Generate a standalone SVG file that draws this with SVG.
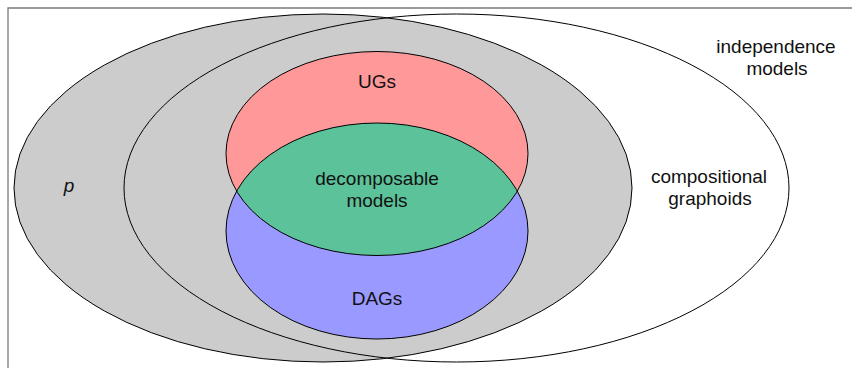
<svg xmlns="http://www.w3.org/2000/svg" width="852" height="368" viewBox="0 0 852 368">
<style>
.ol{fill:none;stroke:#000;stroke-width:1}
.lbl{font-family:"Liberation Sans",Arial,sans-serif;font-size:19px;fill:#111;text-anchor:middle}
</style>
<defs>
<clipPath id="ugClip"><ellipse cx="377" cy="153.5" rx="151" ry="102"/></clipPath>
</defs>
<rect x="0" y="0" width="852" height="368" fill="#fff"/>
<g id="frame">
<polyline points="8,368 8,8 852,8" fill="none" stroke="#7a7a7a" stroke-width="1.3"/>
<text class="lbl" x="776" y="53">independence</text>
<text class="lbl" x="777" y="75">models</text>
</g>
<g id="p">
<ellipse cx="323" cy="188" rx="309" ry="174" fill="#cccccc" stroke="#000" stroke-width="1"/>
<text class="lbl" x="69" y="192" style="font-style:italic">p</text>
</g>
<g id="compositional-graphoids">
<ellipse class="ol" cx="456.5" cy="188" rx="332.5" ry="174"/>
<text class="lbl" x="709" y="183">compositional</text>
<text class="lbl" x="710" y="205">graphoids</text>
</g>
<g id="ugs">
<ellipse cx="377" cy="153.5" rx="151" ry="102" fill="#ff9999"/>
</g>
<g id="dags">
<ellipse cx="377" cy="231" rx="151" ry="108" fill="#9999ff"/>
</g>
<g id="decomposable">
<ellipse cx="377" cy="231" rx="151" ry="108" fill="#5cc29a" clip-path="url(#ugClip)"/>
</g>
<g id="outlines">
<ellipse class="ol" cx="377" cy="153.5" rx="151" ry="102"/>
<ellipse class="ol" cx="377" cy="231" rx="151" ry="108"/>
</g>
<g id="labels">
<text class="lbl" x="377" y="88">UGs</text>
<text class="lbl" x="377" y="185">decomposable</text>
<text class="lbl" x="377" y="207">models</text>
<text class="lbl" x="377" y="305">DAGs</text>
</g>
</svg>
